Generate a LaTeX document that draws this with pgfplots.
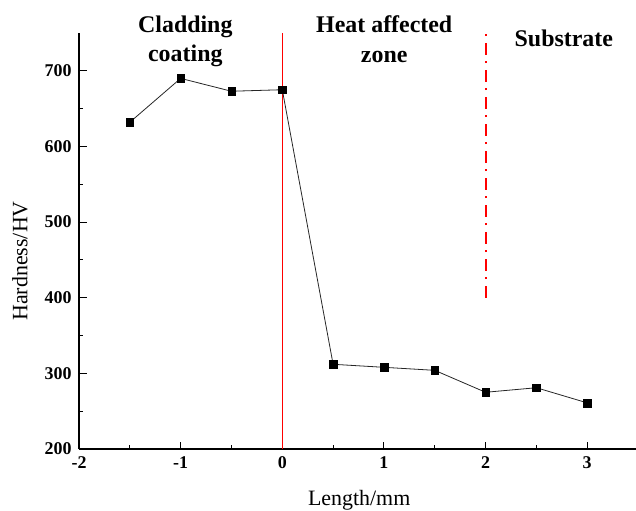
\documentclass[border=0pt]{standalone}
\usepackage{pgfplots}
\pgfplotsset{compat=1.18}
\usepackage{fontspec}
\setmainfont{Liberation Serif}
\definecolor{myred}{RGB}{255,0,0}
\begin{document}
\begin{tikzpicture}
\begin{axis}[
  scale only axis,
  width=557bp, height=416bp,
  xmin=-2, xmax=3.48,
  ymin=200, ymax=750,
  axis x line=bottom, axis y line=left,
  axis line style={-, line width=1.2bp, black},
  xtick={-2,-1,0,1,2,3},
  ytick={200,300,400,500,600,700},
  minor x tick num=1,
  minor y tick num=1,
  tick align=inside,
  major tick length=7.5bp,
  minor tick length=4bp,
  tick style={line width=1bp, black},
  /pgf/number format/assume math mode=true,
  ticklabel style={font=\fontsize{18}{18}\selectfont\bfseries},
  yticklabel style={xshift=-4bp},
  xticklabel style={yshift=-4bp},
  clip=false,
]
\addplot[color=myred, line width=1bp] coordinates {(0,200) (0,750)};
\addplot[color=myred, line width=2bp, dashdotted, dash pattern=on 12bp off 6.5bp on 2bp off 6.5bp] coordinates {(2,400) (2,750)};
\addplot[black!85, line width=0.8bp, mark=square*, mark size=3.8bp, mark options={fill=black, draw=black, line width=0.3bp}] coordinates {
(-1.5,632) (-1,690) (-0.5,673) (0,675) (0.5,312) (1,308) (1.5,304) (2,275) (2.5,281) (3,261)};
\node[anchor=base, font=\fontsize{24}{24}\selectfont\bfseries] at (axis cs:-0.954,750.4) {Cladding};
\node[anchor=base, font=\fontsize{24}{24}\selectfont\bfseries] at (axis cs:-0.954,712) {coating};
\node[anchor=base, font=\fontsize{24}{24}\selectfont\bfseries] at (axis cs:1.003,751) {Heat affected};
\node[anchor=base, font=\fontsize{24}{24}\selectfont\bfseries] at (axis cs:1.003,710.7) {zone};
\node[anchor=base, font=\fontsize{24}{24}\selectfont\bfseries] at (axis cs:2.77,732.8) {Substrate};
\node[anchor=base, font=\fontsize{22}{22}\selectfont] at ([yshift=-56bp]rel axis cs:0.503,0) {Length/mm};
\node[rotate=90, font=\fontsize{22}{22}\selectfont] at ([xshift=-59bp]rel axis cs:0,0.452) {Hardness/HV};
\end{axis}
\pgfresetboundingbox
\path ([shift={(-79bp,-62bp)}]current axis.south west) rectangle ++(636bp,511bp);
\end{tikzpicture}
\end{document}
